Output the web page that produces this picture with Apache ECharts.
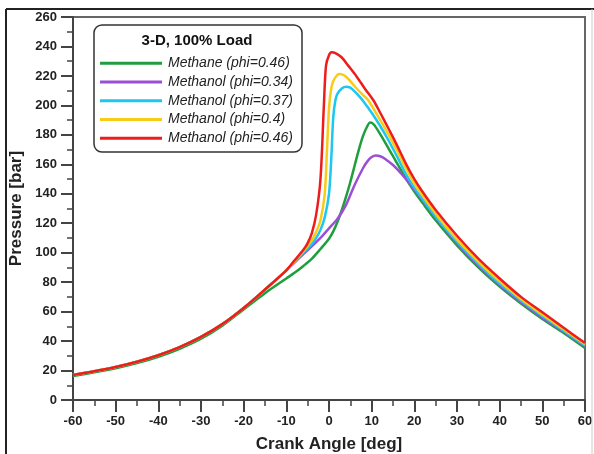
<!DOCTYPE html>
<html>
<head>
<meta charset="utf-8">
<script src="https://cdn.jsdelivr.net/npm/echarts@6/dist/echarts.min.js"></script>
<style>
  html, body { margin: 0; padding: 0; background: #fff; }
  #chart { width: 594px; height: 454px; }
</style>
</head>
<body>
<div id="chart"></div>
<script>
// In-cylinder pressure vs crank angle, 3-D simulation at full load
const legendTitle = '3-D, 100% Load';
const seriesNames = ['Methane (phi=0.46)', 'Methanol (phi=0.34)', 'Methanol (phi=0.37)', 'Methanol (phi=0.4)', 'Methanol (phi=0.46)'];
const seriesColors = ['#1f9e3e', '#9b4fd6', '#1ec6f2', '#f7cb16', '#ee1d1d'];

// [crank angle (deg), pressure (bar)]
const methane046 = [
  [-60, 16.3], [-55, 18.8], [-50, 21.6], [-45, 25.1], [-40, 29.4], [-35, 34.8], [-30, 41.6], [-25, 50.5],
  [-20, 61.5], [-15, 72.5], [-10, 82.5], [-8, 86.5], [-6, 91], [-4, 96], [-2, 102.5], [0, 109.5],
  [1, 114.5], [2, 121], [3, 129], [4, 138], [5, 148], [6, 159], [7, 170], [8, 179.5], [9, 186],
  [9.6, 188.3], [10.5, 187], [12, 180.5], [14, 170.5], [16, 160.5], [18, 150.5], [20, 141.5],
  [22, 133.5], [25, 122], [30, 105], [35, 90], [40, 77], [45, 65.5], [50, 55], [55, 45.5], [60, 35.3]
];
const methanol034 = [
  [-60, 17], [-55, 19.5], [-50, 22.4], [-45, 26], [-40, 30.4], [-35, 35.9], [-30, 42.8], [-25, 51.5],
  [-20, 62.5], [-15, 75], [-10, 88], [-8, 93.5], [-6, 99], [-4, 104.5], [-2, 110], [0, 116.5],
  [2, 123], [4, 132.5], [6, 146], [8, 157.5], [9, 162], [10, 165], [11, 166], [12, 165.5],
  [13, 164], [15, 159.5], [17, 153.5], [20, 143], [22, 135.5], [25, 124], [30, 106.5], [35, 91.5],
  [40, 78], [45, 66.5], [50, 56], [55, 46.5], [60, 36.5]
];
const methanol037 = [
  [-60, 17], [-55, 19.5], [-50, 22.4], [-45, 26], [-40, 30.4], [-35, 35.9], [-30, 42.8], [-25, 51.5],
  [-20, 62.5], [-15, 75], [-10, 88], [-8, 94], [-6, 100], [-4, 106], [-3, 110], [-2, 115.5],
  [-1, 124], [0, 140], [0.5, 162], [1, 192], [1.5, 203.5], [2, 208], [3, 211.5], [4, 212.7],
  [5, 212], [6, 209.5], [7, 206.5], [8, 203], [10, 195], [12, 186], [14, 176], [16, 165],
  [18, 153.5], [20, 144], [22, 136], [25, 124.5], [30, 107.5], [35, 92.5], [40, 79], [45, 67.5],
  [50, 57], [55, 47], [60, 37]
];
const methanol040 = [
  [-60, 17], [-55, 19.5], [-50, 22.4], [-45, 26], [-40, 30.4], [-35, 35.9], [-30, 42.8], [-25, 51.5],
  [-20, 62.5], [-15, 75], [-10, 88], [-8, 94.5], [-6, 101], [-4, 108.5], [-3, 114], [-2, 122],
  [-1, 140], [-0.5, 168], [0, 198], [0.5, 211], [1, 216.5], [2, 220.8], [2.5, 221.3], [3, 221],
  [4, 219.5], [5, 216.5], [6, 213], [8, 207], [9.2, 203.5], [12, 190], [14, 180], [16, 169],
  [18, 157.5], [20, 147], [22, 138.5], [25, 126.5], [30, 109], [35, 94], [40, 80.5], [45, 68.5],
  [50, 58], [55, 48], [60, 37.8]
];
const methanol046 = [
  [-60, 17], [-55, 19.5], [-50, 22.4], [-45, 26], [-40, 30.4], [-35, 35.9], [-30, 42.8], [-25, 51.5],
  [-20, 62.5], [-15, 75], [-10, 88], [-8, 95], [-6, 102], [-5, 106.5], [-4, 113.5], [-3, 126],
  [-2, 150], [-1.2, 200], [-0.7, 227], [0, 234], [0.6, 236], [1.5, 235.5], [3, 232.5], [4.5, 227],
  [6.5, 219.5], [8.5, 211], [10.4, 203.5], [12, 195], [14, 184], [16, 172.5], [18, 160.5],
  [20, 150], [22, 141], [25, 129], [30, 111.5], [35, 96], [40, 82.5], [45, 70], [50, 59.5],
  [55, 49], [60, 38.7]
];

const xTicks = { min: -60, max: 60, step: 10 };
const yTicks = { min: 0, max: 260, step: 20 };

const font = 'Liberation Sans, Arial, sans-serif';
const chart = echarts.init(document.getElementById('chart'), null, { renderer: 'canvas' });

const allData = [methane046, methanol034, methanol037, methanol040, methanol046];

chart.setOption({
  backgroundColor: '#ffffff',
  animation: false,
  grid: {
    left: 73, right: 9, top: 17, bottom: 54,
    outerBoundsMode: 'none',
    show: true, borderColor: '#666', borderWidth: 2, backgroundColor: 'transparent'
  },
  xAxis: {
    type: 'value',
    min: xTicks.min, max: xTicks.max, interval: xTicks.step,
    name: 'Crank Angle [deg]', nameLocation: 'middle', nameGap: 36,
    nameTextStyle: { fontFamily: font, fontWeight: 'bold', fontSize: 17, color: '#222' },
    axisLine: { show: true, onZero: false, lineStyle: { color: '#444', width: 2 } },
    axisTick: { show: true, inside: false, length: 12, lineStyle: { color: '#444', width: 2 } },
    minorTick: { show: true, splitNumber: 2, length: 6, lineStyle: { color: '#444', width: 1.5 } },
    splitLine: { show: false },
    axisLabel: { fontFamily: font, fontWeight: 'bold', fontSize: 13, color: '#222', margin: 15 }
  },
  yAxis: {
    type: 'value',
    min: yTicks.min, max: yTicks.max, interval: yTicks.step,
    name: 'Pressure [bar]', nameLocation: 'middle', nameGap: 39,
    nameTextStyle: { fontFamily: font, fontWeight: 'bold', fontSize: 17, color: '#222' },
    axisLine: { show: true, onZero: false, lineStyle: { color: '#444', width: 2 } },
    axisTick: { show: true, inside: false, length: 12, lineStyle: { color: '#444', width: 2 } },
    minorTick: { show: true, splitNumber: 2, length: 6, lineStyle: { color: '#444', width: 1.5 } },
    splitLine: { show: false },
    axisLabel: { fontFamily: font, fontWeight: 'bold', fontSize: 13, color: '#222', margin: 16 }
  },
  legend: {
    orient: 'vertical', left: 95, top: 49, z: 100,
    icon: 'rect', itemWidth: 62, itemHeight: 3, itemGap: 0,
    textStyle: { fontFamily: font, fontStyle: 'italic', fontSize: 14, color: '#222', lineHeight: 18.7, padding: [0, 0, 0, 1] },
    data: seriesNames
  },
  graphic: [
    { type: 'line', shape: { x1: 6, y1: 9, x2: 594, y2: 9 }, style: { stroke: '#222', lineWidth: 2 }, z: 1 },
    { type: 'line', shape: { x1: 6, y1: 9, x2: 6, y2: 454 }, style: { stroke: '#222', lineWidth: 2 }, z: 1 },
    { type: 'line', shape: { x1: 592, y1: 9, x2: 592, y2: 454 }, style: { stroke: '#ccc', lineWidth: 1 }, z: 1 },
    { type: 'rect', shape: { x: 94, y: 25, width: 208, height: 127, r: 8 }, style: { fill: '#fff', stroke: '#333', lineWidth: 1.5 }, z: 1 },
    { type: 'text', x: 197, y: 41, style: { text: legendTitle, fontFamily: font, fontWeight: 'bold', fontSize: 15, fill: '#111', align: 'center', verticalAlign: 'middle' }, z: 2 }
  ],
  series: seriesNames.map((name, i) => ({
    name: name,
    type: 'line',
    data: allData[i],
    showSymbol: false,
    smooth: 0.3,
    color: seriesColors[i],
    lineStyle: { width: 2.5, color: seriesColors[i] },
    z: 2 + i
  }))
});
</script>
</body>
</html>
